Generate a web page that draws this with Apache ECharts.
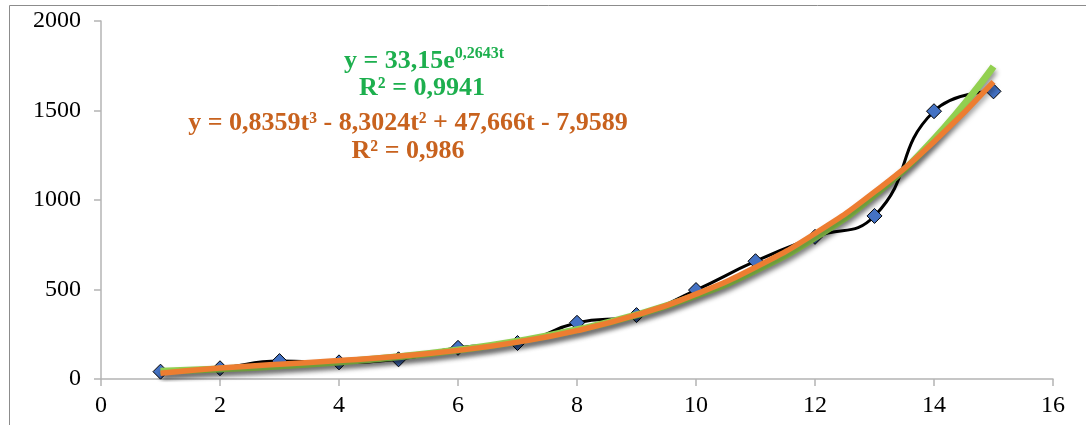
<!DOCTYPE html>
<html>
<head>
<meta charset="utf-8">
<script src="https://cdn.jsdelivr.net/npm/echarts@6/dist/echarts.min.js"></script>
<style>
html,body{margin:0;padding:0;background:#fff;}
#chart{width:1086px;height:425px;}
</style>
</head>
<body>
<div id="chart"></div>
<script>
// Observed data (t, value)
const tValues = [1,2,3,4,5,6,7,8,9,10,11,12,13,14,15];
const observed = [41,60,100,93,110,174,201,314,357,497,658,794,911,1496,1607];
// Trend lines at each t
const expTrend = [43,56,73,95,124,162,211,275,358,466,607,790,1029,1340,1746];
const polyTrend = [32,61,83,103,127,160,206,270,358,474,624,813,1045,1326,1660];
// Axis ticks
const xTicks = [0,2,4,6,8,10,12,14,16];
const yTicks = [0,500,1000,1500,2000];

function pairs(xs, ys){ return xs.map((x,i)=>[x, ys[i]]); }

const chart = echarts.init(document.getElementById('chart'), null, {renderer:'canvas'});
const axisCol = '#B4B4B4';
const labelFont = {fontFamily:'Liberation Serif', fontSize:24, color:'#000'};
const option = {
  animation:false,
  backgroundColor:'#fff',
  grid:{left:101, right:33, top:21, bottom:46},
  xAxis:{
    type:'value', min:xTicks[0], max:xTicks[xTicks.length-1], interval:xTicks[1]-xTicks[0],
    axisLine:{show:true, lineStyle:{color:axisCol, width:1.5}},
    axisTick:{show:true, length:7, lineStyle:{color:axisCol, width:1.5}},
    splitLine:{show:false},
    axisLabel:{...labelFont, margin:15, formatter:v=>String(v)}
  },
  yAxis:{
    type:'value', min:yTicks[0], max:yTicks[yTicks.length-1], interval:yTicks[1]-yTicks[0],
    axisLine:{show:true, lineStyle:{color:axisCol, width:1.5}},
    axisTick:{show:true, length:7, lineStyle:{color:axisCol, width:1.5}},
    splitLine:{show:false},
    axisLabel:{...labelFont, margin:20, formatter:v=>String(v)}
  },
  series:[
    {
      type:'line', data:pairs(tValues, observed), smooth:0.5, z:2,
      lineStyle:{color:'#000', width:3},
      symbol:'diamond', symbolSize:15,
      itemStyle:{color:'#4472C4', borderColor:'#000', borderWidth:1},
      showAllSymbol:true
    },
    {
      type:'line', data:pairs(tValues, expTrend), smooth:true, z:3, symbol:'none',
      lineStyle:{color:'#92D050', width:7, cap:'butt', shadowColor:'rgba(0,0,0,0.45)', shadowBlur:5, shadowOffsetY:4, shadowOffsetX:1}
    },
    {
      type:'line', data:pairs(tValues, polyTrend), smooth:true, z:4, symbol:'none',
      lineStyle:{color:'#ED7D31', width:5.5, cap:'butt', shadowColor:'rgba(0,0,0,0.35)', shadowBlur:5, shadowOffsetY:4, shadowOffsetX:1}
    }
  ],
  graphic:[
    {type:'rect', silent:true, z:0, shape:{x:9.5, y:5.5, width:1200, height:600}, style:{fill:'none', stroke:'#8C8C8C', lineWidth:1}},
    {type:'text', z:10, x:424, y:61, style:{
      text:'{b|y = 33,15e}{s|0,2643t}', align:'center', verticalAlign:'middle',
      rich:{
        b:{fontFamily:'Liberation Serif', fontWeight:'bold', fontSize:26, fill:'#1DAF4E', lineHeight:30},
        s:{fontFamily:'Liberation Serif', fontWeight:'bold', fontSize:16, fill:'#1DAF4E', verticalAlign:'top', lineHeight:30, padding:[0,0,12,0]}
      }}},
    {type:'text', z:10, x:422, y:88, style:{text:'R² = 0,9941', align:'center', verticalAlign:'middle',
      font:'bold 26px "Liberation Serif"', fill:'#1DAF4E'}},
    {type:'text', z:10, x:408, y:123, style:{text:'y = 0,8359t³ - 8,3024t² + 47,666t - 7,9589', align:'center', verticalAlign:'middle',
      font:'bold 26px "Liberation Serif"', fill:'#C8621E'}},
    {type:'text', z:10, x:408, y:151, style:{text:'R² = 0,986', align:'center', verticalAlign:'middle',
      font:'bold 26px "Liberation Serif"', fill:'#C8621E'}}
  ]
};
chart.setOption(option);
</script>
</body>
</html>
